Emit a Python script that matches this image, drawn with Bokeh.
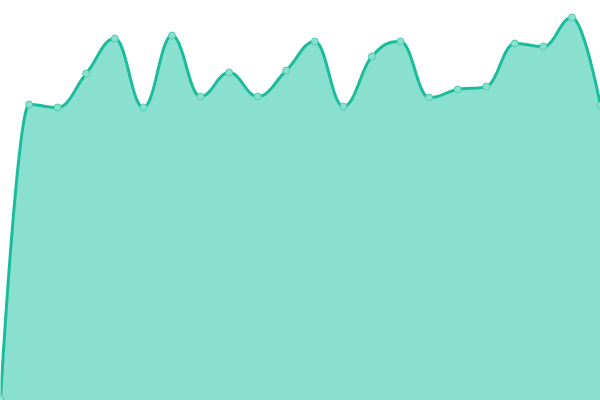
import numpy as np
from bokeh.plotting import figure
from bokeh.models import Range1d
from bokeh.embed import file_html
from bokeh.resources import INLINE

# data
idx = list(range(22))
values = [2, 296, 293, 327, 362, 293, 365, 304, 328, 304, 330,
          359, 294, 344, 359, 303, 311, 314, 357, 354, 383, 295]

LINE = "#1abc9c"
FILL = "#8ae0cf"

def smooth_spline(xs, ys, n=30, smoothing=1.5):
    """Spline path with clamped control points (rendering only)."""
    xs = [float(v) for v in xs]
    ys = [float(v) for v in ys]
    N = len(xs)
    denom = smoothing + 1
    lc = [(xs[i], ys[i]) for i in range(N)]
    rc = [(xs[i], ys[i]) for i in range(N)]
    for i in range(1, N - 1):
        x, y = xs[i], ys[i]
        lx, ly = xs[i - 1], ys[i - 1]
        nx, ny = xs[i + 1], ys[i + 1]
        lcx = (smoothing * x + lx) / denom
        lcy = (smoothing * y + ly) / denom
        rcx = (smoothing * x + nx) / denom
        rcy = (smoothing * y + ny) / denom
        corr = 0.0
        if rcx != lcx:
            corr = ((rcy - lcy) * (rcx - x)) / (rcx - lcx) + y - rcy
        lcy += corr
        rcy += corr
        if lcy > ly and lcy > y:
            lcy = max(ly, y); rcy = 2 * y - lcy
        elif lcy < ly and lcy < y:
            lcy = min(ly, y); rcy = 2 * y - lcy
        if rcy > ny and rcy > y:
            rcy = max(ny, y); lcy = 2 * y - rcy
        elif rcy < ny and rcy < y:
            rcy = min(ny, y); lcy = 2 * y - rcy
        lc[i] = (lcx, lcy)
        rc[i] = (rcx, rcy)
    out_x, out_y = [], []
    for i in range(N - 1):
        p1 = np.array([xs[i], ys[i]])
        c1 = np.array(rc[i])
        c2 = np.array(lc[i + 1])
        p2 = np.array([xs[i + 1], ys[i + 1]])
        t = np.linspace(0, 1, n, endpoint=(i == N - 2))
        b = ((1 - t) ** 3)[:, None] * p1 + (3 * (1 - t) ** 2 * t)[:, None] * c1 \
            + (3 * (1 - t) * t ** 2)[:, None] * c2 + (t ** 3)[:, None] * p2
        out_x.extend(b[:, 0])
        out_y.extend(b[:, 1])
    return out_x, out_y

cx, cy = smooth_spline(idx, values)

p = figure(width=600, height=400, output_backend="svg", toolbar_location=None,
           x_range=Range1d(0, 21), y_range=Range1d(0, 400), min_border=0)
p.axis.visible = False
p.grid.visible = False
p.outline_line_color = None
p.background_fill_color = "white"

p.varea(x=cx, y1=[0] * len(cx), y2=cy, fill_color=FILL, fill_alpha=1.0)
p.line(cx, cy, line_color=LINE, line_width=3)
p.scatter(idx, values, size=7, fill_color=FILL, line_color="#4fcdb2", line_width=1)

open("out.html", "w").write(file_html(p, INLINE))
